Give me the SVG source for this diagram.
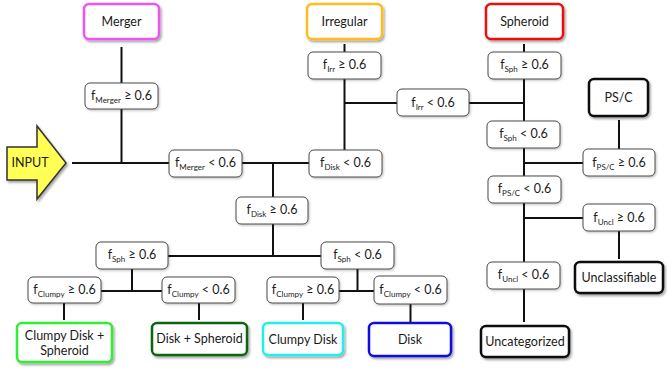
<svg xmlns="http://www.w3.org/2000/svg" width="667" height="375" viewBox="0 0 667 375">
<defs>
<filter id="sh" x="-20%" y="-20%" width="140%" height="150%">
<feDropShadow dx="1.5" dy="2" stdDeviation="1.2" flood-color="#000" flood-opacity="0.35"/>
</filter>
<filter id="sh2" x="-20%" y="-20%" width="140%" height="150%">
<feDropShadow dx="1" dy="1.2" stdDeviation="0.8" flood-color="#000" flood-opacity="0.25"/>
</filter>
<style>
.c rect{fill:#fff;stroke:#4a4a4a;stroke-width:1;filter:url(#sh2)}
.r rect{fill:#fff;stroke-width:2.5;filter:url(#sh)}
text{font-family:Lato,"Liberation Sans",Arial,sans-serif;font-size:12.5px;fill:#1a1a1a;text-anchor:middle}
.s{font-size:8px}
#conn line{stroke:#111;stroke-width:2}
</style>
</defs>
<rect width="667" height="375" fill="#fff"/>
<g id="conn">
<line x1="121.5" y1="47" x2="121.5" y2="83"/>
<line x1="121.5" y1="109" x2="121.5" y2="163"/>
<line x1="72" y1="163" x2="169" y2="163"/>
<line x1="242" y1="163" x2="309" y2="163"/>
<line x1="273" y1="163" x2="273" y2="197"/>
<line x1="273" y1="224" x2="273" y2="256"/>
<line x1="344.5" y1="44" x2="344.5" y2="52"/>
<line x1="344.5" y1="79" x2="344.5" y2="150"/>
<line x1="344.5" y1="103" x2="397" y2="103"/>
<line x1="469" y1="103" x2="524" y2="103"/>
<line x1="524" y1="44" x2="524" y2="52"/>
<line x1="524" y1="79" x2="524" y2="121"/>
<line x1="524" y1="148" x2="524" y2="176"/>
<line x1="524" y1="163" x2="583" y2="163"/>
<line x1="619" y1="120" x2="619" y2="149"/>
<line x1="524" y1="203" x2="524" y2="262"/>
<line x1="524" y1="218" x2="583" y2="218"/>
<line x1="619" y1="231" x2="619" y2="259"/>
<line x1="524" y1="289" x2="524" y2="322"/>
<line x1="168" y1="256" x2="321" y2="256"/>
<line x1="132" y1="269" x2="132" y2="291"/>
<line x1="101" y1="291" x2="162" y2="291"/>
<line x1="64" y1="303" x2="64" y2="320"/>
<line x1="199" y1="303" x2="199" y2="320"/>
<line x1="357.5" y1="269" x2="357.5" y2="291"/>
<line x1="339" y1="291" x2="374" y2="291"/>
<line x1="303" y1="303" x2="303" y2="320"/>
<line x1="410.5" y1="304" x2="410.5" y2="322"/>
</g>
<g id="input">
<polygon points="7,147 37,147 37,126 66,163 37,199 37,180 7,180" fill="#ffff55" stroke="#333" stroke-width="1.5" stroke-linejoin="miter" filter="url(#sh)"/>
<text x="30" y="167">INPUT</text>
</g>
<g id="merger" class="r"><rect x="84" y="4" width="75" height="35" rx="5" stroke="#ee55ee"/><text x="121.5" y="26">Merger</text></g>
<g id="irregular" class="r"><rect x="307" y="4" width="75" height="35" rx="5" stroke="#ffbb22"/><text x="344.5" y="26">Irregular</text></g>
<g id="spheroid" class="r"><rect x="486" y="4" width="77" height="35" rx="5" stroke="#ee1111"/><text x="524.5" y="26">Spheroid</text></g>
<g id="psc" class="r"><rect x="589" y="79" width="59" height="37" rx="5" stroke="#111"/><text x="618.5" y="102">PS/C</text></g>
<g id="unclassifiable" class="r"><rect x="575" y="262" width="88" height="31" rx="5" stroke="#111"/><text x="619" y="282">Unclassifiable</text></g>
<g id="uncategorized" class="r"><rect x="481" y="326" width="88" height="31" rx="5" stroke="#111"/><text x="525" y="346">Uncategorized</text></g>
<g id="clumpydiskspheroid" class="r"><rect x="17" y="323" width="95" height="39" rx="5" stroke="#33ee33"/><text x="64.5" y="340">Clumpy Disk +</text><text x="64.5" y="355">Spheroid</text></g>
<g id="diskspheroid" class="r"><rect x="152" y="323" width="95" height="32" rx="5" stroke="#116611"/><text x="199.5" y="343">Disk + Spheroid</text></g>
<g id="clumpydisk" class="r"><rect x="263" y="323" width="80" height="32" rx="5" stroke="#22eeee"/><text x="303" y="344">Clumpy Disk</text></g>
<g id="disk" class="r"><rect x="369" y="323" width="82" height="33" rx="5" stroke="#1111dd"/><text x="410" y="344">Disk</text></g>

<g id="c-merger-ge" class="c"><rect x="85" y="83" width="73" height="26" rx="5"/><text x="121.5" y="100">f<tspan class="s" dy="3">Merger</tspan><tspan dy="-3"> ≥ 0.6</tspan></text></g>
<g id="c-merger-lt" class="c"><rect x="169" y="150" width="73" height="27" rx="5"/><text x="205.5" y="167">f<tspan class="s" dy="3">Merger</tspan><tspan dy="-3"> &lt; 0.6</tspan></text></g>
<g id="c-disk-lt" class="c"><rect x="309" y="150" width="73" height="27" rx="5"/><text x="345.5" y="167">f<tspan class="s" dy="3">Disk</tspan><tspan dy="-3"> &lt; 0.6</tspan></text></g>
<g id="c-irr-ge" class="c"><rect x="308" y="52" width="73" height="27" rx="5"/><text x="344.5" y="69">f<tspan class="s" dy="3">Irr</tspan><tspan dy="-3"> ≥ 0.6</tspan></text></g>
<g id="c-irr-lt" class="c"><rect x="397" y="89" width="72" height="27" rx="5"/><text x="433" y="107">f<tspan class="s" dy="3">Irr</tspan><tspan dy="-3"> &lt; 0.6</tspan></text></g>
<g id="c-sph-ge-top" class="c"><rect x="488" y="52" width="73" height="27" rx="5"/><text x="524.5" y="69">f<tspan class="s" dy="3">Sph</tspan><tspan dy="-3"> ≥ 0.6</tspan></text></g>
<g id="c-sph-lt-top" class="c"><rect x="487" y="121" width="73" height="27" rx="5"/><text x="523.5" y="138">f<tspan class="s" dy="3">Sph</tspan><tspan dy="-3"> &lt; 0.6</tspan></text></g>
<g id="c-psc-ge" class="c"><rect x="583" y="149" width="72" height="27" rx="5"/><text x="619" y="167">f<tspan class="s" dy="3">PS/C</tspan><tspan dy="-3"> ≥ 0.6</tspan></text></g>
<g id="c-psc-lt" class="c"><rect x="488" y="176" width="73" height="27" rx="5"/><text x="524.5" y="193">f<tspan class="s" dy="3">PS/C</tspan><tspan dy="-3"> &lt; 0.6</tspan></text></g>
<g id="c-uncl-ge" class="c"><rect x="583" y="204" width="72" height="27" rx="5"/><text x="619" y="222">f<tspan class="s" dy="3">Uncl</tspan><tspan dy="-3"> ≥ 0.6</tspan></text></g>
<g id="c-uncl-lt" class="c"><rect x="487" y="262" width="73" height="27" rx="5"/><text x="523.5" y="279">f<tspan class="s" dy="3">Uncl</tspan><tspan dy="-3"> &lt; 0.6</tspan></text></g>
<g id="c-disk-ge" class="c"><rect x="236" y="197" width="72" height="27" rx="5"/><text x="272" y="214">f<tspan class="s" dy="3">Disk</tspan><tspan dy="-3"> ≥ 0.6</tspan></text></g>
<g id="c-sph-ge-low" class="c"><rect x="96" y="242" width="72" height="27" rx="5"/><text x="132" y="259">f<tspan class="s" dy="3">Sph</tspan><tspan dy="-3"> ≥ 0.6</tspan></text></g>
<g id="c-sph-lt-low" class="c"><rect x="321" y="242" width="73" height="27" rx="5"/><text x="357.5" y="259">f<tspan class="s" dy="3">Sph</tspan><tspan dy="-3"> &lt; 0.6</tspan></text></g>
<g id="c-clumpy-ge-l" class="c"><rect x="28" y="277" width="73" height="26" rx="5"/><text x="64.5" y="294">f<tspan class="s" dy="3">Clumpy</tspan><tspan dy="-3"> ≥ 0.6</tspan></text></g>
<g id="c-clumpy-lt-l" class="c"><rect x="162" y="277" width="73" height="26" rx="5"/><text x="198.5" y="294">f<tspan class="s" dy="3">Clumpy</tspan><tspan dy="-3"> &lt; 0.6</tspan></text></g>
<g id="c-clumpy-ge-m" class="c"><rect x="267" y="277" width="72" height="26" rx="5"/><text x="303" y="294">f<tspan class="s" dy="3">Clumpy</tspan><tspan dy="-3"> ≥ 0.6</tspan></text></g>
<g id="c-clumpy-lt-r" class="c"><rect x="374" y="276" width="73" height="28" rx="5"/><text x="410.5" y="294">f<tspan class="s" dy="3">Clumpy</tspan><tspan dy="-3"> &lt; 0.6</tspan></text></g>
</svg>
